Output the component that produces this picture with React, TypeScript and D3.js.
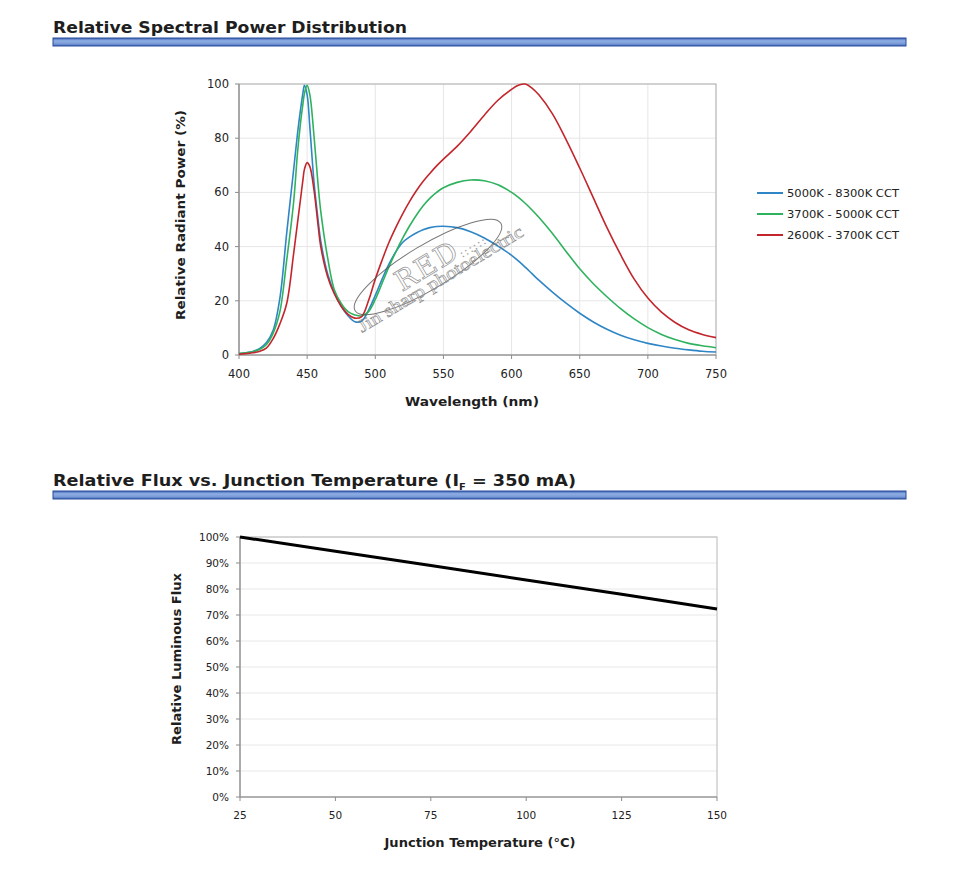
import React from "react";
import * as d3 from "d3";

const wavelengths = [400,405,410,415,420,425,430,435,440,443,445,447,448,450,452,455,458,460,465,470,475,480,485,490,495,500,505,510,515,520,525,530,535,540,545,550,560,570,580,590,600,605,610,615,620,630,640,650,660,670,680,690,700,710,720,730,740,750];

const coolWhite = [0.5,0.8,1.3,2.3,4.5,9,21,45,68,82,90,97,99.5,96,84,64,50,42,30,23,18,14.5,12.3,12.5,16.5,22,28,33.5,38,41.5,43.5,45,46.2,47,47.4,47.5,47,45.5,43.2,40.2,36.8,34.7,32.4,30,27.6,23.2,19.1,15.4,12.2,9.5,7.3,5.6,4.3,3.3,2.5,1.9,1.4,1.1];
const neutralWhite = [0.5,0.8,1.2,2,3.8,8,16,35,56,75,85,93,96.5,99.5,96,81,63,53,36,24,19,16,14.8,14.4,16,20.5,26.5,32.5,38,43,47.5,51.5,55,57.8,60,61.7,63.7,64.6,64.3,62.8,60,58.2,56,53.5,50.8,44.8,38.2,31.8,26.3,21.5,17.1,13.3,10.1,7.6,5.7,4.3,3.4,2.7];
const warmWhite = [0.3,0.5,0.8,1.3,2.5,6,11.5,19,37,49,57,65,68.5,71,69.5,61,48,40,29,22.5,18,15,13.6,14.2,20,28,35,41.5,47,52,56.5,60.5,64,67,69.8,72.3,77,82.5,88.5,94,98,99.5,100,98.5,96,89,79.5,69,58,47,37,28,21,15.8,12,9.3,7.6,6.4];

const seriesNames = ["5000K - 8300K CCT", "3700K - 5000K CCT", "2600K - 3700K CCT"];
const seriesColors = ["#2f86c6", "#2fb25e", "#c2262c"];
const seriesValues = [coolWhite, neutralWhite, warmWhite];

const wlTicks = [400,450,500,550,600,650,700,750];
const powerTicks = [0,20,40,60,80,100];

const junctionTemps = [25,50,75,100,125,150];
const relativeFlux = [100,94.5,89,83.5,78,72.3];
const tempTicks = [25,50,75,100,125,150];
const fluxTicks = [0,10,20,30,40,50,60,70,80,90,100];

const FONT = "'DejaVu Sans', Verdana, sans-serif";

function TitleBar({ y, text, sub, rest, width }: { y: number; text: string; sub?: string; rest?: string; width: number }) {
  return (
    <g>
      <text x={53} y={y} fontFamily={FONT} fontWeight="bold" fontSize={16} fill="#1e1e1e" textLength={width} lengthAdjust="spacingAndGlyphs">
        {text}
        {sub ? <tspan fontSize={9} dy={4}>{sub}</tspan> : null}
        {rest ? <tspan fontSize={16} dy={-4}>{rest}</tspan> : null}
      </text>
      <rect x={53} y={y + 5} width={853} height={8} fill="url(#barGrad)" stroke="#2b4d9c" strokeWidth={1} />
    </g>
  );
}

function SpectralChart() {
  const x = d3.scaleLinear().domain([400, 750]).range([239, 716]);
  const y = d3.scaleLinear().domain([0, 100]).range([355, 84]);
  const line = d3.line<number>()
    .x((_, i) => x(wavelengths[i]))
    .y((d) => y(d))
    .curve(d3.curveCatmullRom.alpha(0.5));
  return (
    <g fontFamily={FONT}>
      {wlTicks.map((t) => (
        <line key={"vx" + t} x1={x(t)} x2={x(t)} y1={y(0)} y2={y(100)} stroke="#e6e6e6" strokeWidth={1} />
      ))}
      {powerTicks.map((t) => (
        <line key={"hy" + t} x1={x(400)} x2={x(750)} y1={y(t)} y2={y(t)} stroke="#e6e6e6" strokeWidth={1} />
      ))}
      <rect x={x(400)} y={y(100)} width={x(750) - x(400)} height={y(0) - y(100)} fill="none" stroke="#b0b0b0" strokeWidth={1} />
      <line x1={x(400)} x2={x(750)} y1={y(0)} y2={y(0)} stroke="#8c8c8c" strokeWidth={1.2} />
      <line x1={x(400)} x2={x(400)} y1={y(0)} y2={y(100)} stroke="#8c8c8c" strokeWidth={1.2} />
      {wlTicks.map((t) => (
        <g key={"tx" + t}>
          <line x1={x(t)} x2={x(t)} y1={y(0)} y2={y(0) + 4} stroke="#8c8c8c" />
          <text x={x(t)} y={378} fontSize={11.5} textAnchor="middle" fill="#222">{t}</text>
        </g>
      ))}
      {powerTicks.map((t) => (
        <g key={"ty" + t}>
          <line x1={x(400) - 4} x2={x(400)} y1={y(t)} y2={y(t)} stroke="#8c8c8c" />
          <text x={229} y={y(t) + 4} fontSize={11.5} textAnchor="end" fill="#222">{t}</text>
        </g>
      ))}
      {seriesValues.map((vals, i) => (
        <path key={"s" + i} d={line(vals) || ""} fill="none" stroke={seriesColors[i]} strokeWidth={1.6} />
      ))}
      <text x={472} y={406} fontSize={12.5} fontWeight="bold" textAnchor="middle" fill="#1e1e1e" textLength={134} lengthAdjust="spacingAndGlyphs">Wavelength (nm)</text>
      <text transform="translate(185,215) rotate(-90)" fontSize={12.5} fontWeight="bold" textAnchor="middle" fill="#1e1e1e" textLength={210} lengthAdjust="spacingAndGlyphs">Relative Radiant Power (%)</text>
      {seriesNames.map((n, i) => (
        <g key={"lg" + i}>
          <line x1={757} x2={783} y1={193 + i * 21} y2={193 + i * 21} stroke={seriesColors[i]} strokeWidth={2} />
          <text x={787} y={197 + i * 21} fontSize={11} fill="#222" textLength={112} lengthAdjust="spacingAndGlyphs">{n}</text>
        </g>
      ))}
      {/* watermark */}
      <g opacity={0.8}>
        <ellipse cx={428} cy={267} rx={85} ry={22} transform="rotate(-31 428 267)" fill="none" stroke="#555" strokeWidth={1} />
        <text transform="translate(402,292) rotate(-31)" fontFamily="'DejaVu Serif', serif" fontSize={28} fill="none" stroke="#777" strokeWidth={0.7} letterSpacing={2}>RED</text>
        <text transform="translate(462,258) rotate(-31)" fontFamily="'DejaVu Serif', serif" fontSize={12} fill="#888" letterSpacing={1}>::::::</text>
        <text transform="translate(362,333) rotate(-31)" fontFamily="'Liberation Serif', serif" fontSize={18} fill="none" stroke="#777" strokeWidth={0.6} textLength={190} lengthAdjust="spacingAndGlyphs">Jin sharp photoelectric</text>
      </g>
    </g>
  );
}

function FluxChart() {
  const x = d3.scaleLinear().domain([25, 150]).range([240, 717]);
  const y = d3.scaleLinear().domain([0, 100]).range([797, 537]);
  const line = d3.line<number>()
    .x((_, i) => x(junctionTemps[i]))
    .y((d) => y(d));
  return (
    <g fontFamily={FONT}>
      {fluxTicks.map((t) => (
        <line key={"g" + t} x1={x(25)} x2={x(150)} y1={y(t)} y2={y(t)} stroke="#e8e8e8" strokeWidth={1} />
      ))}
      <rect x={x(25)} y={y(100)} width={x(150) - x(25)} height={y(0) - y(100)} fill="none" stroke="#b8b8b8" strokeWidth={1} />
      <line x1={x(25)} x2={x(150)} y1={y(0)} y2={y(0)} stroke="#8c8c8c" strokeWidth={1.2} />
      <line x1={x(25)} x2={x(25)} y1={y(0)} y2={y(100)} stroke="#8c8c8c" strokeWidth={1.2} />
      {tempTicks.map((t) => (
        <g key={"tx" + t}>
          <line x1={x(t)} x2={x(t)} y1={y(0)} y2={y(0) + 4} stroke="#8c8c8c" />
          <text x={x(t)} y={819} fontSize={10.5} textAnchor="middle" fill="#222">{t}</text>
        </g>
      ))}
      {fluxTicks.map((t) => (
        <g key={"ty" + t}>
          <line x1={x(25) - 4} x2={x(25)} y1={y(t)} y2={y(t)} stroke="#8c8c8c" />
          <text x={229} y={y(t) + 4} fontSize={10.5} textAnchor="end" fill="#222">{t + "%"}</text>
        </g>
      ))}
      <path d={line(relativeFlux) || ""} fill="none" stroke="#000" strokeWidth={3} />
      <text x={480} y={847} fontSize={11.5} fontWeight="bold" textAnchor="middle" fill="#1e1e1e" textLength={191} lengthAdjust="spacingAndGlyphs">Junction Temperature (°C)</text>
      <text transform="translate(181,659) rotate(-90)" fontSize={11.5} fontWeight="bold" textAnchor="middle" fill="#1e1e1e" textLength={172} lengthAdjust="spacingAndGlyphs">Relative Luminous Flux</text>
    </g>
  );
}

export default function App() {
  return (
    <svg width={960} height={870} style={{ position: "absolute", left: 0, top: 0, background: "#fff" }}>
      <defs>
        <linearGradient id="barGrad" x1="0" y1="0" x2="0" y2="1">
          <stop offset="0" stopColor="#3d63b3" />
          <stop offset="0.35" stopColor="#8eaee4" />
          <stop offset="0.7" stopColor="#7b9bd8" />
          <stop offset="1" stopColor="#4169b8" />
        </linearGradient>
      </defs>
      <rect x={0} y={0} width={960} height={870} fill="#fff" />
      <TitleBar y={33} text="Relative Spectral Power Distribution" width={354} />
      <TitleBar y={486} text="Relative Flux vs. Junction Temperature (I" sub="F" rest=" = 350 mA)" width={523} />
      <SpectralChart />
      <FluxChart />
    </svg>
  );
}
